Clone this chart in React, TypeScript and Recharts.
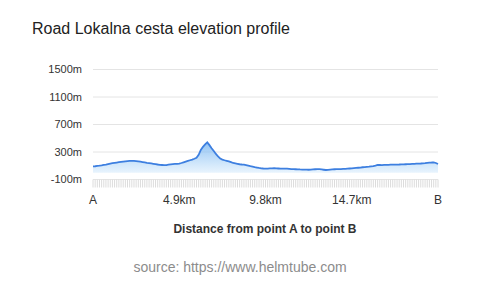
import React from 'react';
import { AreaChart, Area, XAxis, YAxis, CartesianGrid } from 'recharts';

const titleText = 'Road Lokalna cesta elevation profile';
const xAxisTitle = 'Distance from point A to point B';
const sourceText = 'source: https://www.helmtube.com';

// elevation samples (m) from point A to point B
const elevations: number[] = [
  90, 93, 97, 101, 106, 112, 118, 125, 131, 137,
  142, 147, 152, 157, 161, 165, 168, 170, 172, 171,
  168, 164, 159, 154, 149, 143, 138, 133, 128, 123,
  118, 114, 111, 108, 110, 116, 121, 124, 126, 128,
  132, 140, 150, 160, 170, 180, 190, 202, 215, 260,
  330, 375, 410, 440, 400, 355, 315, 272, 235, 205,
  190, 180, 172, 163, 152, 140, 134, 128, 122, 118,
  115, 110, 102, 94, 87, 80, 74, 68, 63, 60,
  58, 59, 61, 63, 64, 62, 60, 58, 57, 58,
  58, 55, 52, 50, 49, 48, 46, 45, 44, 43,
  42, 44, 47, 49, 51, 50, 46, 42, 38, 41,
  45, 47, 49, 50, 51, 52, 54, 56, 58, 60,
  62, 65, 68, 71, 74, 78, 81, 84, 87, 91,
  95, 103, 112, 111, 110, 113, 114, 113, 115, 116,
  115, 117, 118, 120, 121, 122, 123, 124, 126, 127,
  130, 132, 133, 135, 138, 142, 145, 147, 150, 140,
  125,
];

const xTickLabels = ['A', '4.9km', '9.8km', '14.7km', 'B'];
const xTickIndexes = [0, 40, 80, 120, 160];

const yTicks = [-100, 300, 700, 1100, 1500];

const data = elevations.map((e, i) => ({ idx: i, elevation: e }));

const labelFor = (index: number) => {
  const k = xTickIndexes.indexOf(index);
  return k >= 0 ? xTickLabels[k] : '';
};

const FONT = '"Liberation Sans", Arial, Helvetica, sans-serif';

export default function App() {
  return (
    <div style={{ position: 'absolute', left: 0, top: 0, width: 480, height: 287, background: '#fff', fontFamily: FONT }}>
      <AreaChart
        width={480}
        height={287}
        data={data}
        margin={{ top: 69.5, right: 42, left: 0, bottom: 77.5 }}
      >
        <defs>
          <linearGradient id="elevFill" x1="0" y1="0" x2="0" y2="1">
            <stop offset="0%" stopColor="#6aaef0" stopOpacity={0.75} />
            <stop offset="100%" stopColor="#d8ecfc" stopOpacity={0.6} />
          </linearGradient>
        </defs>
        <CartesianGrid vertical={false} stroke="#e4e4e4" strokeWidth={1} />
        <XAxis
          dataKey="idx"
          type="category"
          interval={0}
          height={30}
          axisLine={false}
          tickLine={{ stroke: '#dcdcdc', strokeWidth: 1 }}
          tickSize={8}
          tickMargin={7.5}
          tick={{ fontSize: 12, fill: '#333', fontFamily: FONT }}
          tickFormatter={(_v: any, index: number) => labelFor(index)}
        />
        <YAxis
          type="number"
          domain={[-100, 1500]}
          ticks={yTicks}
          width={93}
          axisLine={false}
          tickLine={false}
          tickSize={6}
          tickMargin={5}
          tick={{ fontSize: 11, fill: '#333', fontFamily: FONT }}
          tickFormatter={(v: number) => `${v}m`}
          allowDataOverflow
        />
        <Area
          type="linear"
          dataKey="elevation"
          stroke="#3d7fe0"
          strokeWidth={1.8}
          fill="url(#elevFill)"
          fillOpacity={1}
          dot={false}
          activeDot={false}
          isAnimationActive={false}
        />
      </AreaChart>
      <svg
        width={480}
        height={287}
        style={{ position: 'absolute', left: 0, top: 0, pointerEvents: 'none' }}
      >
        <text x={32} y={34} fontSize={16} fill="#222" fontFamily={FONT}>
          {titleText}
        </text>
        <text x={265} y={233} fontSize={12} fontWeight="bold" fill="#333" textAnchor="middle" fontFamily={FONT}>
          {xAxisTitle}
        </text>
        <text x={240} y={272} fontSize={14} fill="#8c8c8c" textAnchor="middle" fontFamily={FONT}>
          {sourceText}
        </text>
      </svg>
    </div>
  );
}
